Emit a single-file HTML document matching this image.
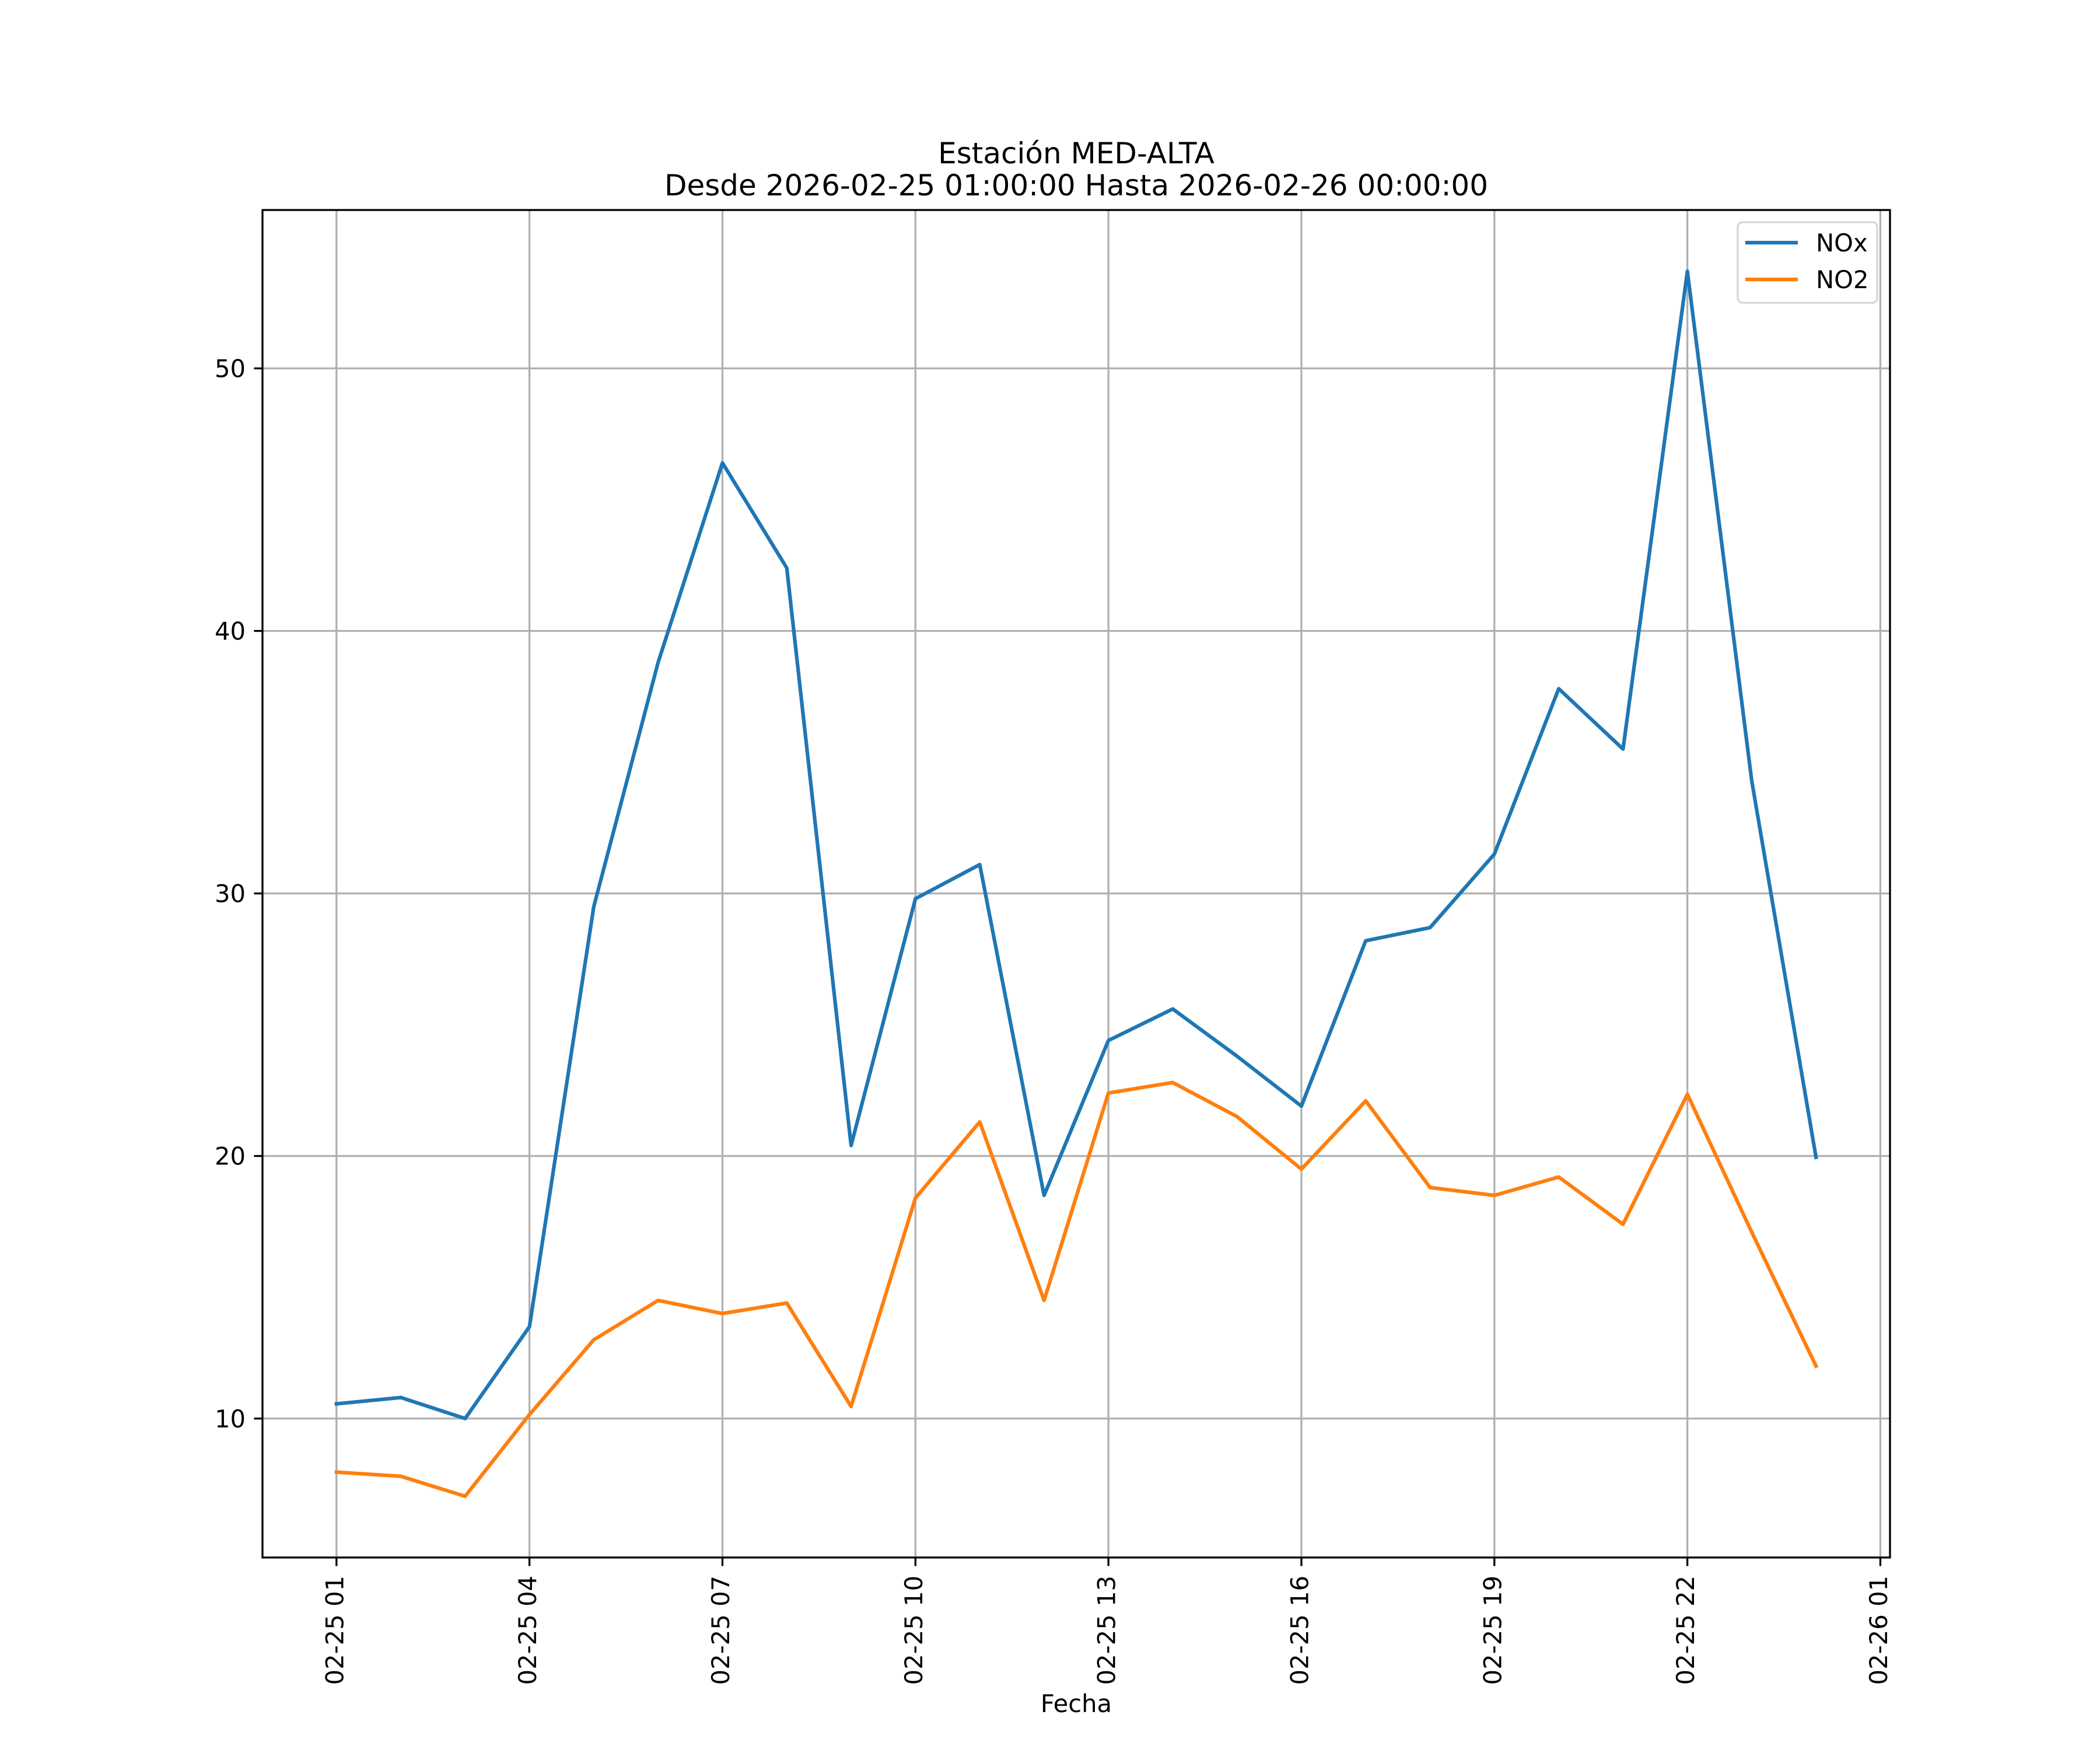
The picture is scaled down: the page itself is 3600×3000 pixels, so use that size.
<!DOCTYPE html>
<html><head><meta charset="utf-8"><style>
html,body{margin:0;padding:0;background:#fff}
svg{display:block;font-family:"DejaVu Sans","Liberation Sans",sans-serif}
</style></head><body>
<svg id="chart" width="3600" height="3000" viewBox="0 0 3600 3000" xmlns="http://www.w3.org/2000/svg">
<rect x="0" y="0" width="3600" height="3000" fill="#fff"/>
<text x="1845" y="280" font-size="50" text-anchor="middle">Estación MED-ALTA</text>
<text x="1845" y="335" font-size="50" text-anchor="middle">Desde 2026-02-25 01:00:00 Hasta 2026-02-26 00:00:00</text>
<g id="grid"></g>
<g id="series"></g>
<rect x="450" y="360" width="2790" height="2310" fill="none" stroke="#000" stroke-width="3.3"/>
<g id="ticks"></g>
<text x="1845" y="2935" font-size="41.7" text-anchor="middle">Fecha</text>
<g>
<rect x="2979" y="381" width="239" height="138" rx="8" fill="#fff" fill-opacity="0.8" stroke="#d6d6d6" stroke-width="3.3"/>
<line x1="2992" y1="416" x2="3082" y2="416" stroke="#1f77b4" stroke-width="6.25"/>
<text x="3113" y="431" font-size="41.7">NOx</text>
<line x1="2992" y1="479" x2="3082" y2="479" stroke="#ff7f0e" stroke-width="6.25"/>
<text x="3113" y="494" font-size="41.7">NO2</text>
</g>
</svg>
<script>
const hours = [1,2,3,4,5,6,7,8,9,10,11,12,13,14,15,16,17,18,19,20,21,22,23,24];
const noxValues = [10.56,10.8,10.0,13.5,29.5,38.8,46.4,42.4,20.4,29.8,31.1,18.5,24.4,25.6,23.8,21.9,28.2,28.7,31.5,37.8,35.5,53.7,34.3,19.95];
const no2Values = [7.96,7.8,7.04,10.15,13.0,14.5,14.0,14.4,10.46,18.4,21.3,14.5,22.4,22.8,21.5,19.5,22.1,18.8,18.5,19.2,17.4,22.35,17.1,12.0];
const xTickHours = [1,4,7,10,13,16,19,22,25];
const xTickLabels = ["02-25 01","02-25 04","02-25 07","02-25 10","02-25 13","02-25 16","02-25 19","02-25 22","02-26 01"];
const yTickValues = [10,20,30,40,50];
const yTickLabels = ["10","20","30","40","50"];

const NS = "http://www.w3.org/2000/svg";
const L=450,R=3240,T=360,B=2670;
const allV = noxValues.concat(no2Values);
const vmin=Math.min(...allV), vmax=Math.max(...allV);
const ymin=vmin-0.05*(vmax-vmin), ymax=vmax+0.05*(vmax-vmin);
const hmin=Math.min(...hours), hmax=Math.max(...hours);
const xmin=hmin-0.05*(hmax-hmin), xmax=hmax+0.05*(hmax-hmin);
const xs=h=>L+(h-xmin)/(xmax-xmin)*(R-L);
const ys=v=>B-(v-ymin)/(ymax-ymin)*(B-T);
function mk(tag,attrs,parent){const e=document.createElementNS(NS,tag);for(const k in attrs)e.setAttribute(k,attrs[k]);parent.appendChild(e);return e;}
const grid=document.getElementById('grid'), ticks=document.getElementById('ticks'), series=document.getElementById('series');
xTickHours.forEach((h,i)=>{
  const x=xs(h);
  const g=mk('line',{x1:x,y1:T,x2:x,y2:B,stroke:'#b0b0b0','stroke-width':3.3},grid);
  
  
  const t=mk('line',{x1:x,y1:B,x2:x,y2:B+14.6,stroke:'#000','stroke-width':3.3},ticks);
  
  
  const lb=mk('text',{x:0,y:0,'font-size':41.7,'text-anchor':'end','dominant-baseline':'central',transform:`translate(${x-3},${B+31}) rotate(-90)`},ticks);
  lb.textContent=xTickLabels[i];
  
  
});
yTickValues.forEach((v,i)=>{
  const y=ys(v);
  const g=mk('line',{x1:L,y1:y,x2:R,y2:y,stroke:'#b0b0b0','stroke-width':3.3},grid);
  
  
  const t=mk('line',{x1:L-14.6,y1:y,x2:L,y2:y,stroke:'#000','stroke-width':3.3},ticks);
  
  
  const lb=mk('text',{x:L-29,y:y+15,'font-size':41.7,'text-anchor':'end'},ticks);
  lb.textContent=yTickLabels[i];
  
  
});
function drawLine(vals,color,name){
  const pts=vals.map((v,i)=>xs(hours[i])+','+ys(v)).join(' ');
  const p=mk('polyline',{points:pts,fill:'none',stroke:color,'stroke-width':6.25,'stroke-linejoin':'round','stroke-linecap':'square'},series);
  
  
}
drawLine(noxValues,'#1f77b4','nox-line');
drawLine(no2Values,'#ff7f0e','no2-line');
</script>
</body></html>
